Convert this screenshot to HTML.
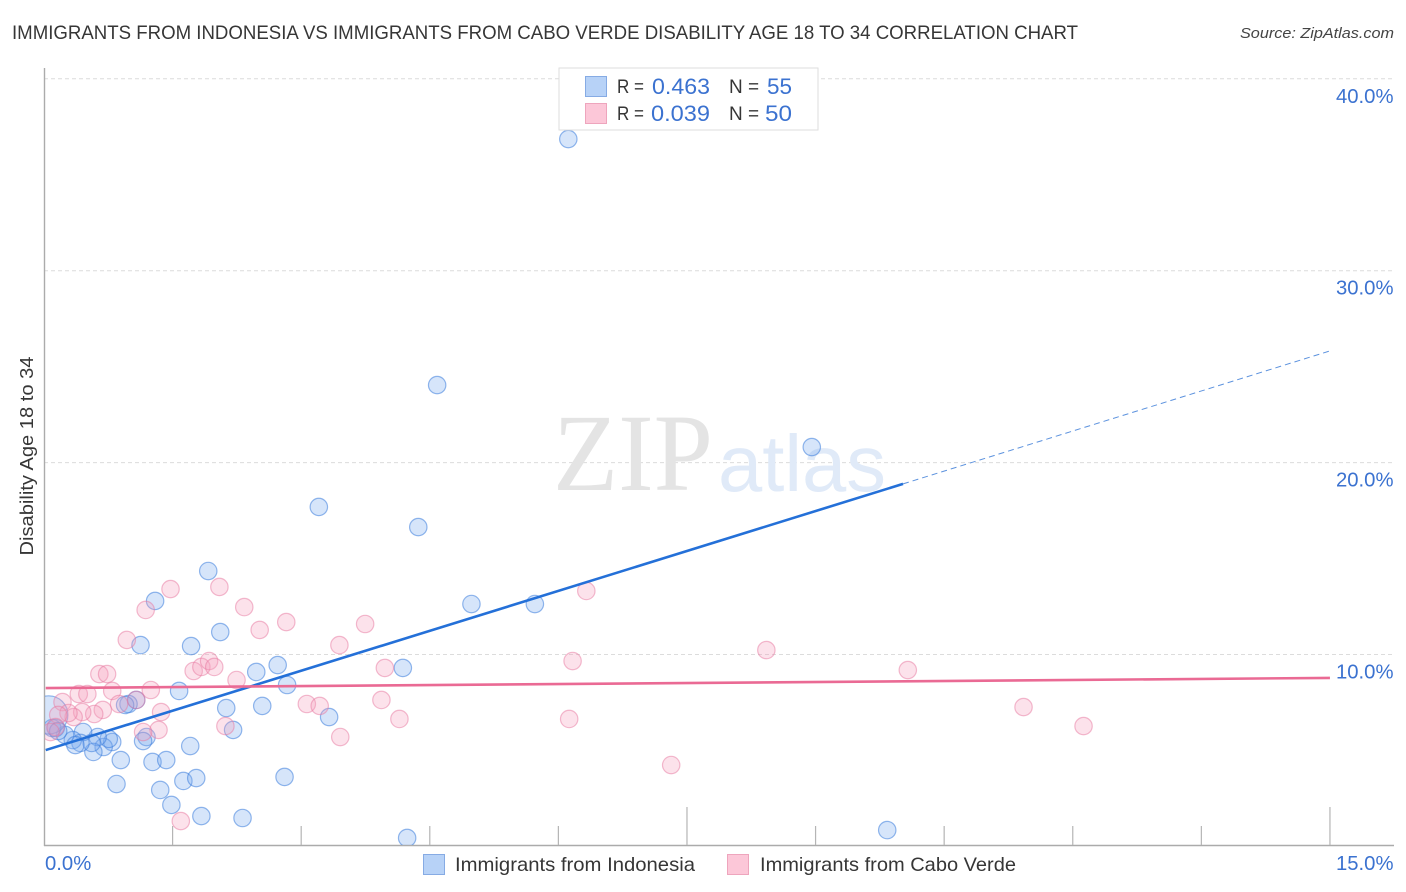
<!DOCTYPE html>
<html lang="en">
<head>
<meta charset="utf-8">
<title>Correlation chart</title>
<style>
html,body{margin:0;padding:0;background:#fff;width:1406px;height:892px;overflow:hidden}
svg{display:block;font-family:"Liberation Sans",Arial,sans-serif}
</style>
</head>
<body>
<svg id="chart" width="1406" height="892" viewBox="0 0 1406 892" xmlns="http://www.w3.org/2000/svg">
  <defs><clipPath id="plot-clip"><rect x="45" y="68" width="1300" height="777"/></clipPath></defs>
  <text x="12" y="39" font-size="19.4" fill="#363636" textLength="1066" lengthAdjust="spacingAndGlyphs">IMMIGRANTS FROM INDONESIA VS IMMIGRANTS FROM CABO VERDE DISABILITY AGE 18 TO 34 CORRELATION CHART</text>
  <text x="1394" y="38" font-size="15" font-style="italic" fill="#444" text-anchor="end" textLength="154" lengthAdjust="spacingAndGlyphs">Source: ZipAtlas.com</text>
  <g id="grid"></g>
  <g>
    <text x="553" y="490" font-family="'Liberation Serif',serif" font-size="110" fill="#e4e4e4" textLength="160" lengthAdjust="spacingAndGlyphs">ZIP</text>
    <text x="718" y="491" font-size="80" fill="#e0eaf8" textLength="168" lengthAdjust="spacingAndGlyphs">atlas</text>
  </g>
  <g id="axes"></g>
  <g id="points" clip-path="url(#plot-clip)"></g>
  <g id="lines"></g>
  <text transform="translate(33,456) rotate(-90)" font-size="18.5" fill="#363636" text-anchor="middle" textLength="199" lengthAdjust="spacingAndGlyphs">Disability Age 18 to 34</text>
  <g id="labels"></g>

  <g>
    <rect x="559" y="68" width="259" height="62" fill="#fff" stroke="#dedede" stroke-width="1"/>
    <rect x="585.5" y="76.5" width="21" height="20" fill="#b7d2f7" stroke="#86abe4"/>
    <rect x="585.5" y="103.5" width="21" height="20" fill="#fcc7d8" stroke="#eea5bd"/>
    <text x="617" y="93" font-size="19" fill="#363636" textLength="27" lengthAdjust="spacingAndGlyphs">R =</text>
    <text x="652" y="94" font-size="22" fill="#3b72d0" textLength="58" lengthAdjust="spacingAndGlyphs">0.463</text>
    <text x="729" y="93" font-size="19" fill="#363636">N =</text>
    <text x="767" y="94" font-size="22" fill="#3b72d0" textLength="25" lengthAdjust="spacingAndGlyphs">55</text>
    <text x="617" y="120" font-size="19" fill="#363636" textLength="27" lengthAdjust="spacingAndGlyphs">R =</text>
    <text x="651" y="121" font-size="22" fill="#3b72d0" textLength="59" lengthAdjust="spacingAndGlyphs">0.039</text>
    <text x="729" y="120" font-size="19" fill="#363636">N =</text>
    <text x="765" y="121" font-size="22" fill="#3b72d0" textLength="27" lengthAdjust="spacingAndGlyphs">50</text>
  </g>

  <g>
    <rect x="423.5" y="854.5" width="21" height="20" fill="#b7d2f7" stroke="#86abe4"/>
    <text x="455" y="871" font-size="19.5" fill="#363636" textLength="240" lengthAdjust="spacingAndGlyphs">Immigrants from Indonesia</text>
    <rect x="727.5" y="854.5" width="21" height="20" fill="#fcc7d8" stroke="#eea5bd"/>
    <text x="760" y="871" font-size="19.5" fill="#363636" textLength="256" lengthAdjust="spacingAndGlyphs">Immigrants from Cabo Verde</text>
  </g>
</svg>
<script>
const indonesiaX = [6.11,4.58,8.95,3.20,4.36,1.91,1.29,4.98,5.72,2.05,1.71,1.12,4.18,2.72,2.47,2.83,1.57,1.07,0.98,0.94,2.12,2.54,3.32,2.20,1.19,1.15,1.70,0.79,0.69,0.75,0.62,0.57,0.55,0.45,0.42,0.33,0.24,0.13,0.09,0.89,1.26,1.42,0.84,1.35,1.62,1.77,2.80,1.48,1.83,2.31,4.23,9.83,0.05,0.16,0.36];
const indonesiaY = [36.86,24.04,20.81,17.69,16.64,14.35,12.79,12.63,12.63,11.17,10.44,10.49,9.30,9.45,9.09,8.41,8.10,7.63,7.42,7.37,7.21,7.32,6.74,6.07,5.70,5.49,5.23,5.44,5.18,5.60,5.70,4.92,5.39,5.96,5.39,5.54,5.81,6.17,6.17,4.50,4.40,4.50,3.25,2.94,3.41,3.56,3.62,2.16,1.58,1.48,0.44,0.85,6.85,6.01,5.28];
const indonesiaWeight = [1,1,1,1,1,1,1,1,1,1,1,1,1,1,1,1,1,1,1,1,1,1,1,1,1,1,1,1,1,1,1,1,1,1,1,1,1,1,1,1,1,1,1,1,1,1,1,1,1,1,1,1,2.2,1,1];
const caboVerdeX = [1.47,1.18,2.04,2.33,2.51,2.82,3.44,0.96,0.64,0.73,1.74,1.83,1.92,1.98,2.24,1.24,0.79,0.40,0.50,0.21,0.87,1.07,0.68,0.58,0.44,0.34,0.28,0.16,1.36,1.33,1.15,2.11,3.06,3.21,3.45,1.59,0.13,0.07,3.74,6.32,3.97,6.16,3.93,4.14,6.12,7.31,8.42,10.07,11.42,12.12];
const caboVerdeY = [13.41,12.32,13.52,12.47,11.28,11.69,10.49,10.76,8.98,8.98,9.14,9.35,9.66,9.35,8.67,8.15,8.10,7.94,7.94,7.52,7.42,7.63,7.11,6.90,7.00,6.74,6.95,6.85,7.00,6.07,5.96,6.27,7.42,7.32,5.70,1.32,6.22,5.96,11.59,13.31,9.30,9.66,7.63,6.64,6.64,4.24,10.23,9.19,7.26,6.27];
const indonesiaTrendX = [0.02,10.02,15];
const indonesiaTrendY = [5.02,18.89,25.82];
const caboVerdeTrendX = [0.02,15];
const caboVerdeTrendY = [8.25,8.78];
const yTicks = [10,20,30,40];
const yTickLabels = ["10.0%","20.0%","30.0%","40.0%"];
const xTicks = [1.5,3,4.5,6,7.5,9,10.5,12,13.5,15];
const xMajorTicks = [7.5,15];
const xEndLabels = ["0.0%","15.0%"];

const NS = 'http://www.w3.org/2000/svg';
const sx = v => 44 + v * 85.73;
const sy = v => 846.4 - v * 19.19;
function make(tag, attrs, parent) {
  const el = document.createElementNS(NS, tag);
  for (const k in attrs) el.setAttribute(k, attrs[k]);
  parent.appendChild(el);
  return el;
}
const grid = document.getElementById('grid');
const axes = document.getElementById('axes');
const labels = document.getElementById('labels');
const points = document.getElementById('points');
const lines = document.getElementById('lines');

yTicks.forEach((t, i) => {
  const g = make('line', {x1: 44, x2: 1393, y1: sy(t), y2: sy(t), stroke: '#dcdcdc', 'stroke-width': 1, 'stroke-dasharray': '4 3'}, grid);
  
  
  const lab = make('text', {x: 1393.5, y: sy(t) + 24, 'font-size': 20.3, fill: '#3b72d0', 'text-anchor': 'end'}, labels);
  lab.textContent = yTickLabels[i];
  
  
});

const yAxis = make('line', {x1: 44.5, x2: 44.5, y1: 68, y2: 846, stroke: '#ababab', 'stroke-width': 1.4}, axes);


const xAxis = make('line', {x1: 44, x2: 1394, y1: 845.5, y2: 845.5, stroke: '#ababab', 'stroke-width': 1.4}, axes);


xTicks.forEach(t => {
  const top = xMajorTicks.includes(t) ? 807 : 826;
  const tick = make('line', {x1: sx(t), x2: sx(t), y1: top, y2: 845, stroke: '#b5b5b5', 'stroke-width': 1.2}, axes);
  
  
});
const xStart = make('text', {x: 45, y: 870, 'font-size': 20.3, fill: '#3b72d0'}, labels);
xStart.textContent = xEndLabels[0];


const xEnd = make('text', {x: 1393.5, y: 870, 'font-size': 20.3, fill: '#3b72d0', 'text-anchor': 'end'}, labels);
xEnd.textContent = xEndLabels[1];



indonesiaX.forEach((v, i) => {
  const c = make('circle', {cx: sx(v) + 0.5, cy: sy(indonesiaY[i]), r: 8.7 * indonesiaWeight[i], fill: 'rgba(120,170,238,0.3)', stroke: 'rgba(60,125,220,0.55)', 'stroke-width': 1.2}, points);
  
  
});
caboVerdeX.forEach((v, i) => {
  const c = make('circle', {cx: sx(v) + 0.5, cy: sy(caboVerdeY[i]), r: 8.7, fill: 'rgba(245,160,190,0.3)', stroke: 'rgba(232,120,160,0.5)', 'stroke-width': 1.2}, points);
  
  
});

const blueSolid = make('line', {x1: sx(indonesiaTrendX[0]), y1: sy(indonesiaTrendY[0]), x2: sx(indonesiaTrendX[1]), y2: sy(indonesiaTrendY[1]), stroke: '#2470d8', 'stroke-width': 2.6}, lines);


const blueDash = make('line', {x1: sx(indonesiaTrendX[1]), y1: sy(indonesiaTrendY[1]), x2: sx(indonesiaTrendX[2]), y2: sy(indonesiaTrendY[2]), stroke: '#5c92de', 'stroke-width': 1, 'stroke-dasharray': '6 4'}, lines);


const pinkLine = make('line', {x1: sx(caboVerdeTrendX[0]), y1: sy(caboVerdeTrendY[0]), x2: sx(caboVerdeTrendX[1]), y2: sy(caboVerdeTrendY[1]), stroke: '#ea6a94', 'stroke-width': 2.6}, lines);


</script>
</body>
</html>
